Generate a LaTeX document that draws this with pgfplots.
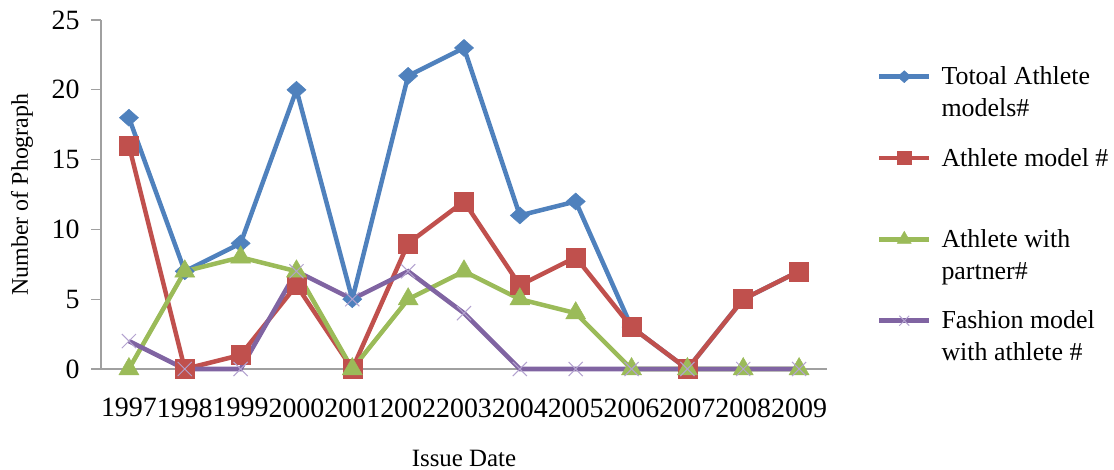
\documentclass[border=0pt]{standalone}
\usepackage{fontspec}
\setmainfont{Liberation Serif}
\usepackage{pgfplots}
\pgfplotsset{compat=1.18}
\definecolor{cblue}{HTML}{4F81BD}
\definecolor{cred}{HTML}{C0504D}
\definecolor{cgreen}{HTML}{9BBB59}
\definecolor{cpurple}{HTML}{8064A2}
\definecolor{cxmark}{HTML}{B3A2CF}
\definecolor{caxis}{HTML}{A0A0A0}
\begin{document}
\begin{tikzpicture}
\begin{axis}[
  at={(101bp,101bp)}, anchor=south west,
  scale only axis, width=726bp, height=349bp,
  xmin=-0.5, xmax=12.5, ymin=0, ymax=25,
  xtick={0,1,...,12},
  xticklabels={1997,1998,1999,2000,2001,2002,2003,2004,2005,2006,2007,2008,2009},
  ytick={0,5,...,25},
  axis x line*=bottom, axis y line*=left,
  axis line style={draw=caxis, line width=1.3bp},
  tick style={draw=caxis, line width=1.3bp},
  tick align=outside, major tick length=10bp,
  xtick style={draw=none},
  /pgf/number format/assume math mode=true,
  ticklabel style={font=\fontsize{28}{32}\selectfont},
  xticklabel style={yshift=-16bp},
  yticklabel style={xshift=-8bp},
  xlabel={Issue Date},
  xlabel style={font=\fontsize{25}{28}\selectfont, at={(axis description cs:0.5,-0.2807)}, anchor=base},
  ylabel={Number of Phograph},
  ylabel style={font=\fontsize{24}{28}\selectfont, at={(axis description cs:-0.1088,0.5)}, anchor=center},
  legend style={at={(axis description cs:1.0689,0.871)}, anchor=north west, draw=none, inner sep=0pt, outer sep=0pt,
    font=\fontsize{26}{32}\selectfont, row sep=26bp,
    /tikz/every odd column/.append style={column sep=8bp},
    cells={anchor=west, align=left}},
  legend image code/.code={\draw[yshift=16bp, mark repeat=2,mark phase=2, /tikz/every mark/.append style={scale=0.7}] plot coordinates {(0bp,0bp) (25bp,0bp) (50bp,0bp)};},
  every axis plot/.append style={line width=4.5bp},
  clip=false,
]
\addplot[color=cblue, mark=diamond*, mark size=8.5bp, mark options={solid, fill=cblue, draw=cblue, line width=0.5bp, xscale=1.5}]
  coordinates {(0,18) (1,7) (2,9) (3,20) (4,5) (5,21) (6,23) (7,11) (8,12) (9,3) (10,0) (11,5) (12,7)};
\addlegendentry{Totoal Athlete\\models\#}
\addplot[color=cred, mark=square*, mark size=9.5bp, mark options={solid, fill=cred, draw=cred, line width=0.5bp}]
  coordinates {(0,16) (1,0) (2,1) (3,6) (4,0) (5,9) (6,12) (7,6) (8,8) (9,3) (10,0) (11,5) (12,7)};
\addlegendentry{Athlete model \#\\\mbox{}}
\addplot[color=cgreen, mark=triangle*, mark size=11.5bp, mark options={solid, fill=cgreen, draw=cgreen, line width=0.5bp}]
  coordinates {(0,0) (1,7) (2,8) (3,7) (4,0) (5,5) (6,7) (7,5) (8,4) (9,0) (10,0) (11,0) (12,0)};
\addlegendentry{Athlete with\\partner\#}
\addplot[color=cpurple, mark=x, mark size=10bp, mark options={solid, draw=cxmark, line width=1bp}]
  coordinates {(0,2) (1,0) (2,0) (3,7) (4,5) (5,7) (6,4) (7,0) (8,0) (9,0) (10,0) (11,0) (12,0)};
\addlegendentry{Fashion model\\with athlete \#}
\end{axis}
\pgfresetboundingbox
\path[use as bounding box] (0,0) rectangle (1114bp,470bp);
\end{tikzpicture}
\end{document}
